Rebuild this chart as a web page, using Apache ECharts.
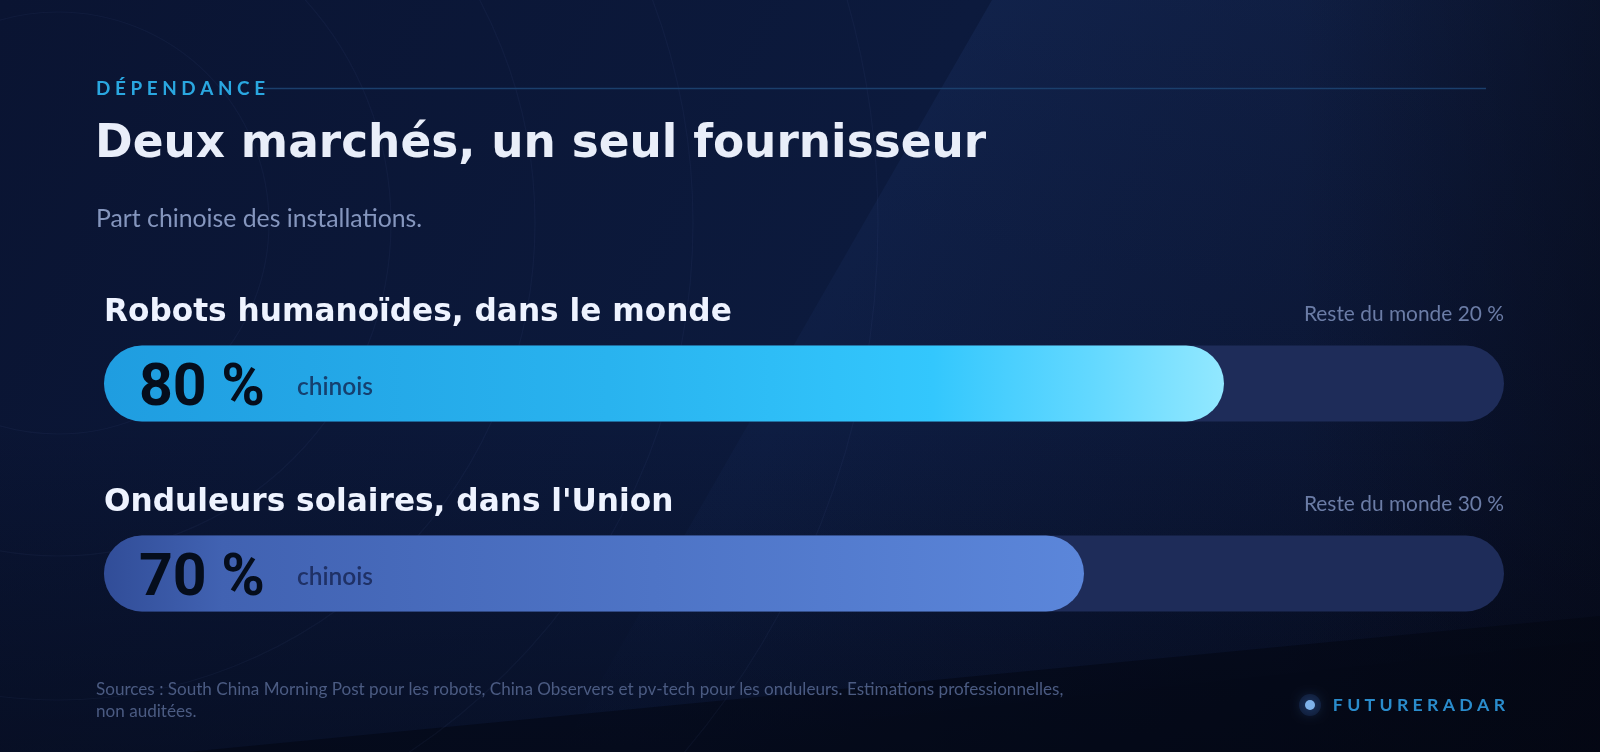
<!DOCTYPE html>
<html><head><meta charset="utf-8">
<script src="https://cdn.jsdelivr.net/npm/echarts@6/dist/echarts.min.js"></script>
<style>html,body{margin:0;padding:0;background:#0b1634;overflow:hidden}#chart{width:1600px;height:752px}</style>
</head><body><div id="chart"></div>
<script>
// ---- data ----
const categories = ["Robots humanoïdes, dans le monde", "Onduleurs solaires, dans l'Union"];
const chineseShare = [80, 70];
const restShare = [20, 30];
const fullScale = [100, 100];
const shareLabel = "chinois";
const restLabel = "Reste du monde";
const kicker = "DÉPENDANCE";
const titleText = "Deux marchés, un seul fournisseur";
const subtitleText = "Part chinoise des installations.";
const sourceLines = ["Sources : South China Morning Post pour les robots, China Observers et pv-tech pour les onduleurs. Estimations professionnelles,", "non auditées."];
const brand = "FUTURERADAR";

// ---- font fitting helper ----
const mctx = document.createElement('canvas').getContext('2d');
function fit(text, weight, family, target) {
  mctx.font = weight + ' 100px ' + family;
  return Math.round(100 * target / mctx.measureText(text).width * 10) / 10;
}
const spaced = s => s.split('').join(' ');
const HEAD = 'DejaVu Sans';
const BODY = 'Lato';
const NUM = 'Roboto';

const titleSize = fit(titleText, 'bold', '"DejaVu Sans"', 891);
const rowSize = fit(categories[0], 'bold', '"DejaVu Sans"', 628);
const subSize = fit(subtitleText, 'normal', 'Lato', 326);
const restSize = fit(restLabel + ' ' + restShare[0] + ' %', 'normal', 'Lato', 200);
const srcSize = fit(sourceLines[0], 'normal', 'Lato', 966);
const numSize = fit(chineseShare[0] + ' %', 'bold', 'Roboto', 126);
const chSize = fit(shareLabel, '600', 'Lato', 76);
const kickSize = fit(spaced(kicker), 'bold', 'Lato', 169);
const brandSize = fit(spaced(brand), 'bold', 'Lato', 172);

const fillColors = [
  new echarts.graphic.LinearGradient(0, 0, 1, 0, [
    {offset: 0, color: '#1f9de0'}, {offset: 0.45, color: '#29b3ef'}, {offset: 0.74, color: '#33c7fd'},
    {offset: 0.88, color: '#62d8ff'}, {offset: 1, color: '#92e8ff'}]),
  new echarts.graphic.LinearGradient(0, 0, 1, 0, [
    {offset: 0, color: '#314d98'}, {offset: 0.12, color: '#4162b2'}, {offset: 1, color: '#5b86da'}])
];
const chColors = ['#15406f', '#1f3166'];

const chart = echarts.init(document.getElementById('chart'), null, {renderer: 'canvas'});

const bgGraphics = [
  {type: 'rect', z: -10, shape: {x: 0, y: 0, width: 1600, height: 752},
   style: {fill: new echarts.graphic.LinearGradient(0, 0, 1, 1, [
     {offset: 0, color: '#0a1432'}, {offset: 0.5, color: '#0c1a3d'}, {offset: 1, color: '#070d22'}])}},
  {type: 'rect', z: -9, shape: {x: 0, y: 420, width: 1600, height: 332},
   style: {fill: new echarts.graphic.LinearGradient(0, 0, 0, 1, [
     {offset: 0, color: 'rgba(3,6,16,0)'}, {offset: 1, color: 'rgba(3,6,16,0.45)'}])}},
  {type: 'polygon', z: -9, shape: {points: [[992, 0], [1600, 0], [1600, 640], [560, 752]]},
   style: {fill: new echarts.graphic.LinearGradient(0, 0, 0, 1, [
     {offset: 0, color: 'rgba(40,70,135,0.18)'}, {offset: 0.7, color: 'rgba(30,55,115,0.08)'}, {offset: 1, color: 'rgba(20,40,90,0.0)'}])}},
  {type: 'polygon', z: -8, shape: {points: [[0, 770], [1600, 616], [1600, 752], [0, 752]]},
   style: {fill: 'rgba(2,5,14,0.45)'}},
  {type: 'rect', z: -8, shape: {x: 1300, y: 0, width: 300, height: 752},
   style: {fill: new echarts.graphic.LinearGradient(0, 0, 1, 0, [
     {offset: 0, color: 'rgba(5,8,20,0)'}, {offset: 1, color: 'rgba(5,8,20,0.45)'}])}},
];
[211, 333, 477, 635, 820].forEach(r => bgGraphics.push({
  type: 'circle', z: -7, silent: true, shape: {cx: 58, cy: 223, r: r},
  style: {fill: 'none', stroke: 'rgba(120,150,220,0.055)', lineWidth: 1.2}
}));

const textGraphics = [
  {type: 'text', x: 96, y: 89, style: {text: spaced(kicker), fontFamily: BODY, fontWeight: 'bold', fontSize: kickSize,
    fill: '#2aa7e0', textAlign: 'left', textVerticalAlign: 'middle', align: 'left', verticalAlign: 'middle'}},
  {type: 'line', shape: {x1: 263, y1: 88.5, x2: 1486, y2: 88.5}, style: {stroke: '#1b3f6c', lineWidth: 1.5}},
  {type: 'text', x: 95, y: 145, style: {text: titleText, fontFamily: HEAD, fontWeight: 'bold', fontSize: titleSize,
    fill: '#e9eef9', textAlign: 'left', textVerticalAlign: 'middle', align: 'left', verticalAlign: 'middle'}},
  {type: 'text', x: 96, y: 219, style: {text: subtitleText, fontFamily: BODY, fontWeight: 'normal', fontSize: subSize,
    fill: '#8596be', textAlign: 'left', textVerticalAlign: 'middle', align: 'left', verticalAlign: 'middle'}},
  {type: 'text', x: 96, y: 689, style: {text: sourceLines[0], fontFamily: BODY, fontSize: srcSize,
    fill: '#4b5b82', textAlign: 'left', textVerticalAlign: 'middle', align: 'left', verticalAlign: 'middle'}},
  {type: 'text', x: 96, y: 711, style: {text: sourceLines[1], fontFamily: BODY, fontSize: srcSize,
    fill: '#4b5b82', textAlign: 'left', textVerticalAlign: 'middle', align: 'left', verticalAlign: 'middle'}},
  {type: 'circle', shape: {cx: 1310, cy: 705, r: 11}, style: {fill: 'rgba(70,130,220,0.14)'}},
  {type: 'circle', shape: {cx: 1310, cy: 705, r: 5}, style: {fill: '#7fb2ea', shadowBlur: 14, shadowColor: 'rgba(70,130,220,0.9)'}},
  {type: 'text', x: 1505, y: 705, style: {text: spaced(brand), fontFamily: BODY, fontWeight: 'bold', fontSize: brandSize,
    fill: '#2a8ccc', textAlign: 'right', textVerticalAlign: 'middle', align: 'right', verticalAlign: 'middle'}},
];

const option = {
  backgroundColor: '#0b1634',
  animation: false,
  graphic: {elements: bgGraphics.concat(textGraphics)},
  grid: {left: 104, right: 96, top: 288.5, height: 380, containLabel: false},
  xAxis: {type: 'value', min: 0, max: 100, show: false},
  yAxis: {type: 'category', data: categories, inverse: true, show: false},
  series: [
    {
      name: 'track', type: 'bar', data: fullScale, barWidth: 76, silent: true, z: 1,
      itemStyle: {color: '#1e2c59', borderRadius: 38},
      label: {show: true, position: [0, -33], align: 'left', verticalAlign: 'middle',
        formatter: p => p.name, fontFamily: HEAD, fontWeight: 'bold', fontSize: rowSize, color: '#eef3ff'}
    },
    {
      name: 'rest', type: 'bar', data: fullScale, barWidth: 76, barGap: '-100%', silent: true, z: 2,
      itemStyle: {color: 'rgba(0,0,0,0)'},
      label: {show: true, position: ['100%', -31], align: 'right', verticalAlign: 'middle',
        formatter: p => restLabel + ' ' + restShare[p.dataIndex] + ' %',
        fontFamily: BODY, fontSize: restSize, color: '#6b7ca6'}
    },
    {
      name: 'chinois', type: 'bar', barWidth: 76, barGap: '-100%', z: 3,
      data: chineseShare.map((v, i) => ({
        value: v,
        itemStyle: {color: fillColors[i], borderRadius: 38},
        label: {
          show: true, position: 'insideLeft', distance: 35, offset: [0, 7],
          formatter: p => '{v|' + p.value + ' %}{c|' + shareLabel + '}',
          rich: {
            v: {fontFamily: NUM, fontWeight: 'bold', fontSize: numSize, color: '#050d1c', width: 158, verticalAlign: 'middle'},
            c: {fontFamily: BODY, fontWeight: 600, fontSize: chSize, color: chColors[i], verticalAlign: 'middle', padding: [0, 0, 6, 0]}
          }
        }
      }))
    }
  ]
};
chart.setOption(option);
</script></body></html>
